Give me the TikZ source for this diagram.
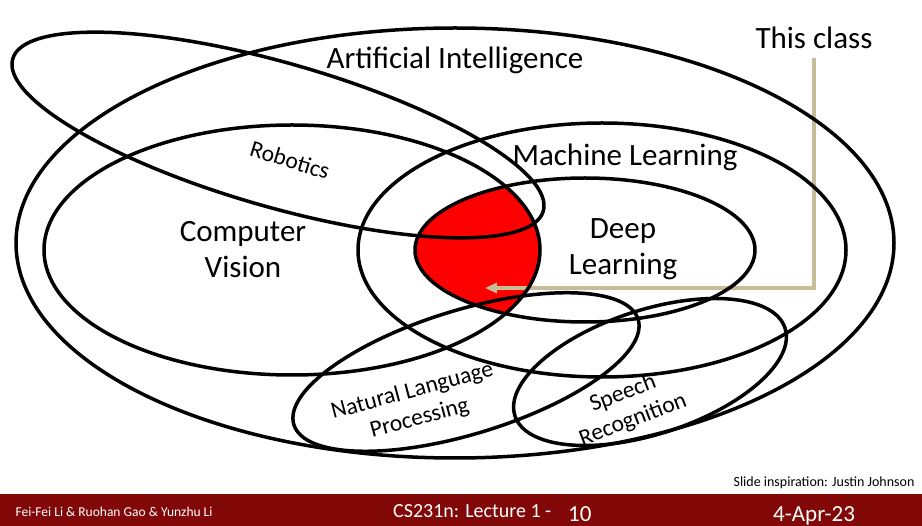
\documentclass[tikz,border=0pt]{standalone}
\usepackage{fontspec}
\setmainfont{Carlito}
\usetikzlibrary{arrows.meta}
\definecolor{slidered}{RGB}{130,8,8}
\definecolor{classtan}{RGB}{196,189,151}

\begin{document}
\begin{tikzpicture}[x=1pt, y=-1pt,
    blob/.style={draw=black, line width=3.5pt},
    biglabel/.style={font=\fontsize{31}{36}\selectfont, align=center},
    smalllabel/.style={font=\fontsize{23.5}{28}\selectfont, align=center},
    footnote/.style={font=\fontsize{13.5}{15}\selectfont, text=white},
    classarrow/.style={draw=classtan, line width=3.6pt, -{Triangle[length=12pt, width=10pt]}}
]
\useasboundingbox (0,0) rectangle (922,526);

% footer band
\fill[slidered] (0,494) rectangle (922,526);

% overlap of Computer Vision and Deep Learning
\begin{scope}
  \clip (292,250) ellipse [x radius=248, y radius=125];
  \fill[red] (585,250) ellipse [x radius=170, y radius=72];
\end{scope}

% pointer from "This class"
\node[biglabel] (thisclass) at (814,38) {This class};
\coordinate (dltarget) at (485,288);
\draw[classarrow, shorten <=6pt] (thisclass.south) |- (dltarget);

% fields
\draw[blob] (455,243) ellipse [x radius=439, y radius=215];
\draw[blob] (292,250) ellipse [x radius=248, y radius=125];
\draw[blob] (602,250) ellipse [x radius=244, y radius=127];
\draw[blob] (585,250) ellipse [x radius=170, y radius=72];
\draw[blob, rotate around={-16:(278,135)}] (278,135) ellipse [x radius=276, y radius=72];
\draw[blob, rotate around={17:(466,372)}] (466,372) ellipse [x radius=180, y radius=62];
\draw[blob, rotate around={18:(650,372)}] (650,372) ellipse [x radius=142, y radius=62];

\node[biglabel] (ai) at (455,60) {Artificial Intelligence};
\node[biglabel] (ml) at (625,157) {Machine Learning};
\node[biglabel] (cv) at (243,250) {Computer\\Vision};
\node[biglabel] (dl) at (623,249) {Deep\\Learning};
\node[smalllabel, rotate=-17] (rob) at (290,160) {Robotics};
\node[smalllabel, rotate=15] (nlp) at (416,405) {Natural Language\\Processing};
\node[smalllabel, rotate=21] (speech) at (628,407) {Speech\\Recognition};

% footer
\node[font=\fontsize{14}{16}\selectfont, anchor=east] (credit) at (918,483) {Slide inspiration: Justin Johnson};
\node[footnote, anchor=west] (authors) at (12,512) {Fei-Fei Li \& Ruohan Gao \& Yunzhu Li};
\node[font=\fontsize{20}{22}\selectfont, text=white, anchor=base west, inner sep=0pt] (lecture) at (393,518) {CS231n: Lecture 1 -};
\node[font=\fontsize{23}{25}\selectfont, text=white, anchor=base west, inner sep=0pt] (slideno) at (568,522) {10};
\node[font=\fontsize{23}{25}\selectfont, text=white, anchor=base west, inner sep=0pt] (date) at (773,522) {4-Apr-23};
\end{tikzpicture}
\end{document}
